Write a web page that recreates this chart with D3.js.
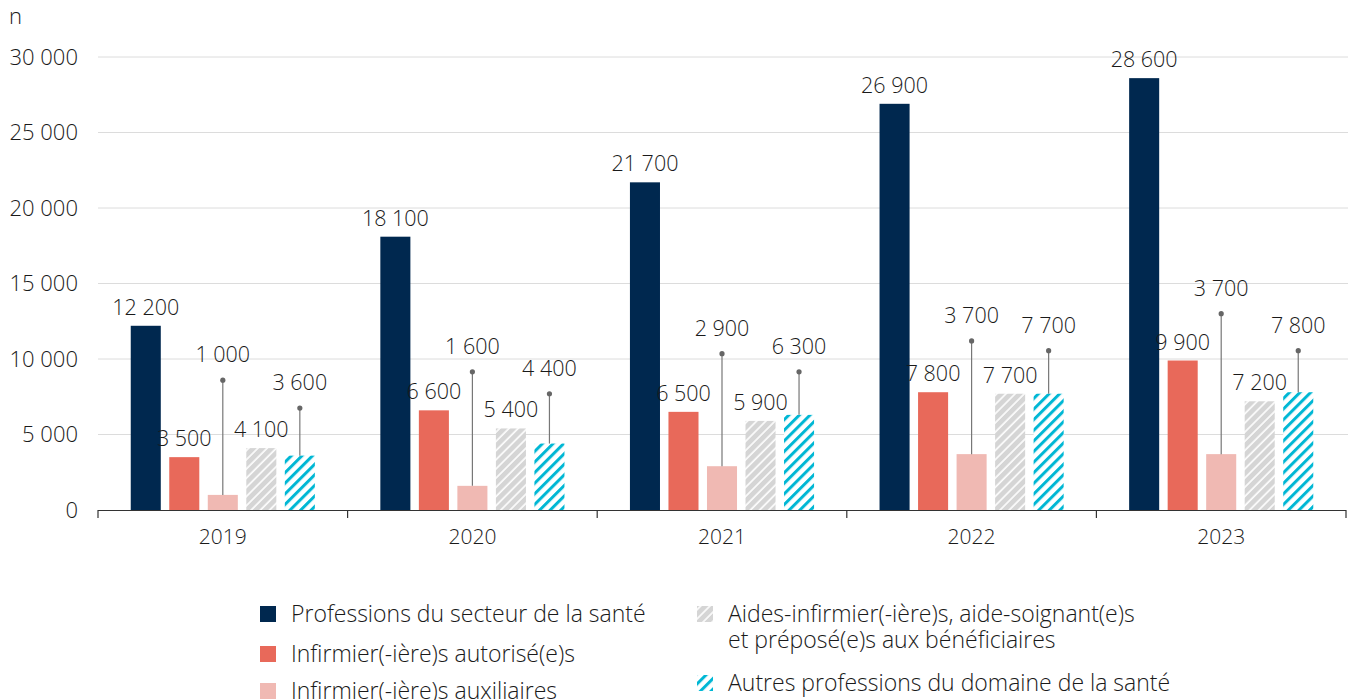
<!DOCTYPE html>
<html>
<head>
<meta charset="utf-8">
<script src="https://cdn.jsdelivr.net/npm/d3@7"></script>
<style>
  body { margin: 0; background: #fff; }
  svg text { font-family: "Open Sans", sans-serif; font-weight: 350; fill: #1a1a1a; }
</style>
</head>
<body>
<svg id="chart" width="1348" height="700"></svg>
<script>
const years = ['2019', '2020', '2021', '2022', '2023'];
const seriesNames = [
  'Professions du secteur de la santé',
  'Infirmier(-ière)s autorisé(e)s',
  'Infirmier(-ière)s auxiliaires',
  'Aides-infirmier(-ière)s, aide-soignant(e)s et préposé(e)s aux bénéficiaires',
  'Autres professions du domaine de la santé'
];
const sante = [12200, 18100, 21700, 26900, 28600];
const autorises = [3500, 6600, 6500, 7800, 9900];
const auxiliaires = [1000, 1600, 2900, 3700, 3700];
const aides = [4100, 5400, 5900, 7700, 7200];
const autres = [3600, 4400, 6300, 7700, 7800];
const yTicks = [0, 5000, 10000, 15000, 20000, 25000, 30000];

// where the leader lines end (in axis units), for labels pushed above the bars
const leaderAuxiliaires = [8600, 9150, 10350, 11200, 13000];
const leaderAutres = [6750, 7700, 9150, 10550, 10550];

const seriesValues = [sante, autorises, auxiliaires, aides, autres];
const fills = ['#00284f', '#e8695a', '#f0b9b3', 'url(#hatch-gray)', 'url(#hatch-cyan)'];

const svg = d3.select('#chart');
const margin = { left: 98, right: 2, top: 57, bottom: 510 };

const fr = d3.formatLocale({ decimal: ',', thousands: '\u00a0', grouping: [3], currency: ['', ' €'] });
const fmt = fr.format(',');

// patterns
const defs = svg.append('defs');
const pg = defs.append('pattern')
  .attr('id', 'hatch-gray')
  .attr('patternUnits', 'userSpaceOnUse')
  .attr('width', 6.5).attr('height', 6.5)
  .attr('patternTransform', 'rotate(45)');
pg.append('rect').attr('width', 6.5).attr('height', 6.5).attr('fill', '#d5d5d5');
pg.append('line').attr('x1', 1).attr('x2', 1).attr('y1', 0).attr('y2', 6.5)
  .attr('stroke', '#fff').attr('stroke-width', 1.6);

const pc = defs.append('pattern')
  .attr('id', 'hatch-cyan')
  .attr('patternUnits', 'userSpaceOnUse')
  .attr('width', 7.5).attr('height', 7.5)
  .attr('patternTransform', 'rotate(45)');
pc.append('rect').attr('width', 7.5).attr('height', 7.5).attr('fill', '#fff');
pc.append('line').attr('x1', 1.5).attr('x2', 1.5).attr('y1', 0).attr('y2', 7.5)
  .attr('stroke', '#00b7d4').attr('stroke-width', 3);

// scales
const x0 = d3.scaleBand().domain(years).range([margin.left, 1346]);
const x1 = d3.scaleBand().domain(d3.range(seriesNames.length))
  .range([0, x0.bandwidth()]).paddingInner(0.22).paddingOuter(0.85);
const y = d3.scaleLinear().domain([0, 30000]).range([margin.bottom, margin.top]);

// grid
svg.append('g').selectAll('line')
  .data(yTicks.filter((d) => d > 0))
  .enter().append('line')
  .attr('x1', margin.left).attr('x2', 1348)
  .attr('y1', (d) => y(d)).attr('y2', (d) => y(d))
  .attr('stroke', '#dcdcdc').attr('stroke-width', 1);

// y labels
svg.append('g').selectAll('text')
  .data(yTicks)
  .enter().append('text')
  .attr('x', 78).attr('y', (d) => y(d))
  .attr('dy', '0.35em')
  .attr('text-anchor', 'end')
  .attr('font-size', 22)
  .text((d) => fmt(d));

svg.append('text').attr('x', 9).attr('y', 24).attr('font-size', 22).text('n');

// bars
const groups = svg.append('g').selectAll('g')
  .data(years)
  .enter().append('g')
  .attr('transform', (d) => `translate(${x0(d)},0)`);

groups.selectAll('rect')
  .data((d, i) => seriesValues.map((s, k) => ({ k, v: s[i], i })))
  .enter().append('rect')
  .attr('x', (d) => x1(d.k))
  .attr('width', x1.bandwidth())
  .attr('y', (d) => y(d.v))
  .attr('height', (d) => y(0) - y(d.v))
  .attr('fill', (d) => fills[d.k]);

// value labels
groups.each(function (yr, i) {
  const g = d3.select(this);
  seriesValues.forEach((s, k) => {
    const cx = x1(k) + x1.bandwidth() / 2;
    let top = y(s[i]);
    let leader = null;
    if (k === 2) leader = leaderAuxiliaires[i];
    if (k === 4) leader = leaderAutres[i];
    if (leader !== null) {
      const ly = y(leader);
      g.append('line')
        .attr('x1', cx).attr('x2', cx)
        .attr('y1', top).attr('y2', ly)
        .attr('stroke', '#777').attr('stroke-width', 1.2);
      g.append('circle').attr('cx', cx).attr('cy', ly).attr('r', 2.6).attr('fill', '#666');
      top = ly - 7;
    }
    g.append('text')
      .attr('x', cx).attr('y', top - 11)
      .attr('text-anchor', 'middle')
      .attr('font-size', 21.5)
      .text(fmt(s[i]));
  });
});

// x axis
const xAxis = svg.append('g');
xAxis.append('line')
  .attr('x1', margin.left).attr('x2', 1346)
  .attr('y1', y(0) + 0.5).attr('y2', y(0) + 0.5)
  .attr('stroke', '#333').attr('stroke-width', 1.2);
xAxis.selectAll('.tick')
  .data(years.map((d) => x0(d)).concat([x0(years[years.length - 1]) + x0.bandwidth()]))
  .enter().append('line')
  .attr('x1', (d) => d).attr('x2', (d) => d)
  .attr('y1', y(0)).attr('y2', y(0) + 8)
  .attr('stroke', '#333').attr('stroke-width', 1.2);
xAxis.selectAll('text')
  .data(years)
  .enter().append('text')
  .attr('x', (d) => x0(d) + x0.bandwidth() / 2)
  .attr('y', 544)
  .attr('text-anchor', 'middle')
  .attr('font-size', 21)
  .attr('fill', '#333')
  .text((d) => d);

// legend
const legendItems = [
  { k: 0, x: 260, y: 614, lines: [seriesNames[0]] },
  { k: 1, x: 260, y: 654, lines: [seriesNames[1]] },
  { k: 2, x: 260, y: 691, lines: [seriesNames[2]] },
  { k: 3, x: 697, y: 614, lines: ['Aides-infirmier(-ière)s, aide-soignant(e)s', 'et préposé(e)s aux bénéficiaires'] },
  { k: 4, x: 697, y: 683, lines: [seriesNames[4]] }
];
const legend = svg.append('g');
legendItems.forEach((it) => {
  legend.append('rect')
    .attr('x', it.x).attr('y', it.y - 8)
    .attr('width', 16).attr('height', 16)
    .attr('fill', fills[it.k]);
  it.lines.forEach((ln, j) => {
    legend.append('text')
      .attr('x', it.x + 31).attr('y', it.y + j * 26)
      .attr('dy', '0.35em')
      .attr('font-size', 23)
      .text(ln);
  });
});
</script>
</body>
</html>
